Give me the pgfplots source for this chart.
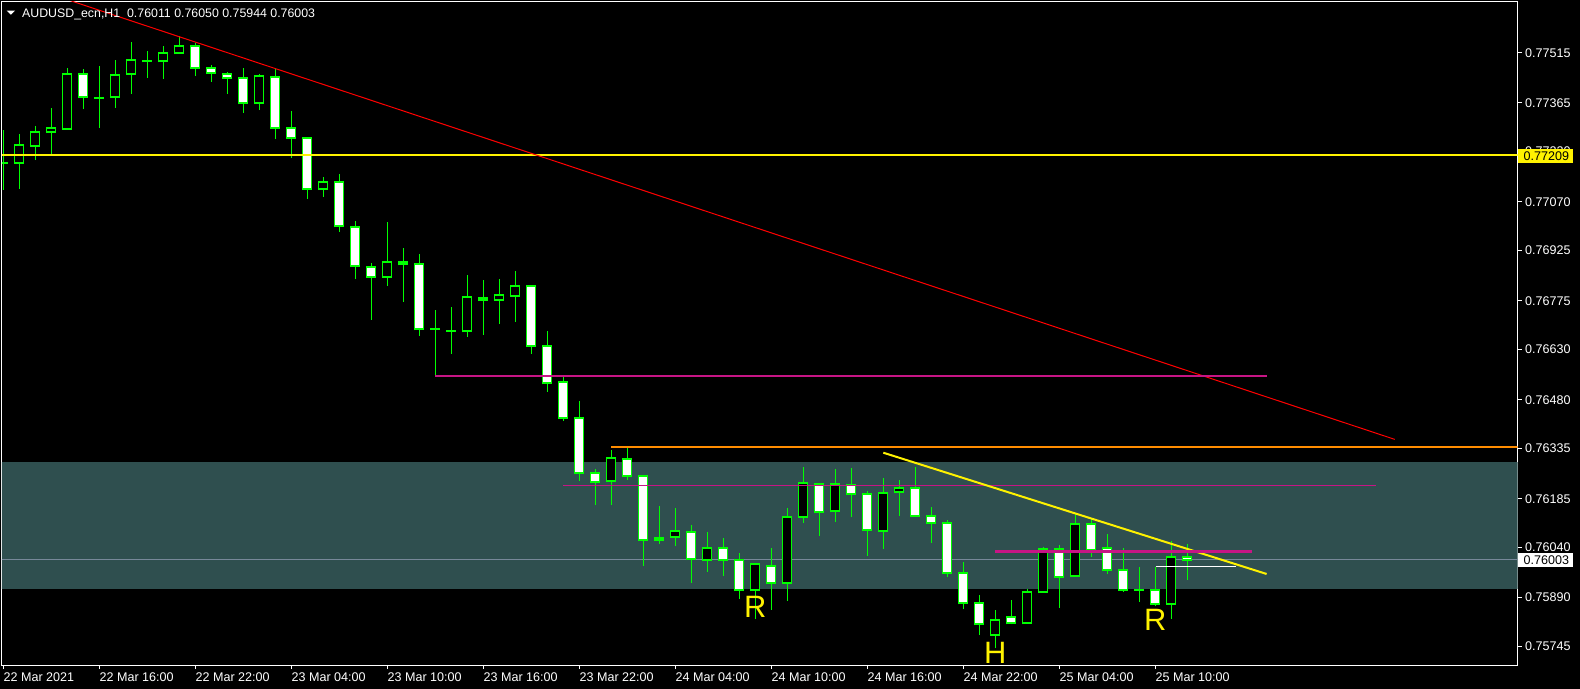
\documentclass[border=0pt]{standalone}
\usepackage{pgfplots}
\usepackage{pgfplotstable}
\pgfplotsset{compat=1.18}
\usepackage{fontspec}
\setmainfont{Liberation Sans}
\definecolor{cgreen}{RGB}{0,255,0}
\definecolor{zone}{RGB}{47,79,79}
\definecolor{mvr}{RGB}{199,21,133}
\definecolor{dorange}{RGB}{255,140,0}
\definecolor{bidgrey}{RGB}{119,136,153}
% hourly candles: index, open, high, low, close
\pgfplotstableread{
i o h l c
0 0.77187 0.77285 0.77106 0.77187
1 0.77187 0.77273 0.77109 0.77239
2 0.77238 0.77296 0.77195 0.77278
3 0.77278 0.77350 0.77212 0.77290
4 0.77288 0.77469 0.77287 0.77451
5 0.77451 0.77466 0.77347 0.77382
6 0.77381 0.77475 0.77291 0.77381
7 0.77382 0.77493 0.77351 0.77448
8 0.77451 0.77547 0.77393 0.77492
9 0.77489 0.77520 0.77440 0.77489
10 0.77489 0.77535 0.77437 0.77513
11 0.77513 0.77565 0.77513 0.77534
12 0.77534 0.77545 0.77446 0.77469
13 0.77469 0.77478 0.77429 0.77454
14 0.77451 0.77457 0.77393 0.77439
15 0.77439 0.77469 0.77336 0.77364
16 0.77364 0.77452 0.77344 0.77445
17 0.77442 0.77466 0.77259 0.77290
18 0.77290 0.77341 0.77202 0.77260
19 0.77260 0.77265 0.77079 0.77108
20 0.77108 0.77144 0.77086 0.77129
21 0.77129 0.77153 0.76981 0.76997
22 0.76994 0.77013 0.76841 0.76878
23 0.76875 0.76888 0.76719 0.76847
24 0.76847 0.77010 0.76820 0.76890
25 0.76890 0.76933 0.76773 0.76884
26 0.76884 0.76915 0.76671 0.76690
27 0.76692 0.76748 0.76551 0.76692
28 0.76686 0.76757 0.76617 0.76686
29 0.76684 0.76852 0.76668 0.76786
30 0.76783 0.76837 0.76674 0.76777
31 0.76777 0.76840 0.76707 0.76792
32 0.76790 0.76864 0.76713 0.76818
33 0.76818 0.76818 0.76617 0.76640
34 0.76640 0.76685 0.76504 0.76529
35 0.76532 0.76551 0.76418 0.76425
36 0.76425 0.76476 0.76239 0.76261
37 0.76261 0.76274 0.76166 0.76234
38 0.76237 0.76330 0.76166 0.76306
39 0.76303 0.76338 0.76242 0.76252
40 0.76252 0.76255 0.75985 0.76061
41 0.76067 0.76163 0.76051 0.76061
42 0.76070 0.76157 0.76045 0.76088
43 0.76085 0.76107 0.75935 0.76004
44 0.76001 0.76086 0.75967 0.76037
45 0.76037 0.76068 0.75955 0.76001
46 0.76001 0.76022 0.75887 0.75912
47 0.75912 0.75989 0.75826 0.75989
48 0.75983 0.76038 0.75854 0.75933
49 0.75933 0.76157 0.75881 0.76130
50 0.76130 0.76280 0.76113 0.76231
51 0.76228 0.76232 0.76075 0.76144
52 0.76147 0.76274 0.76116 0.76228
53 0.76225 0.76277 0.76131 0.76198
54 0.76198 0.76208 0.76015 0.76091
55 0.76088 0.76247 0.76036 0.76201
56 0.76204 0.76241 0.76134 0.76216
57 0.76216 0.76280 0.76130 0.76133
58 0.76133 0.76160 0.76054 0.76112
59 0.76112 0.76121 0.75951 0.75963
60 0.75963 0.75996 0.75855 0.75873
61 0.75873 0.75898 0.75778 0.75811
62 0.75778 0.75853 0.75739 0.75822
63 0.75831 0.75883 0.75810 0.75813
64 0.75813 0.75916 0.75813 0.75906
65 0.75906 0.76041 0.75906 0.76035
66 0.76035 0.76047 0.75860 0.75952
67 0.75955 0.76142 0.75952 0.76109
68 0.76109 0.76124 0.76012 0.76033
69 0.76037 0.76080 0.75961 0.75973
70 0.75972 0.76037 0.75908 0.75914
71 0.75914 0.75980 0.75878 0.75914
72 0.75912 0.75980 0.75865 0.75872
73 0.75872 0.76058 0.75827 0.76010
74 0.76011 0.76050 0.75944 0.76003
}\candles
\begin{document}
\begin{tikzpicture}
\useasboundingbox (0,0) rectangle (790bp,344.5bp);
\fill[black] (0,0) rectangle (790bp,344.5bp);
\begin{axis}[
  at={(1bp,12bp)}, anchor=south west,
  width=757.75bp, height=331.5bp, scale only axis,
  xmin=-0.081, xmax=94.64, ymin=0.756891, ymax=0.776662,
  axis background/.style={fill=black},
  axis line style={white, line width=0.5bp},
  xtick={0,6,12,18,24,30,36,42,48,54,60,66,72},
  xticklabels={22 Mar 2021,22 Mar 16:00,22 Mar 22:00,23 Mar 04:00,23 Mar 10:00,23 Mar 16:00,23 Mar 22:00,24 Mar 04:00,24 Mar 10:00,24 Mar 16:00,24 Mar 22:00,25 Mar 04:00,25 Mar 10:00},
  ytick={0.75745,0.7589,0.7604,0.76185,0.76335,0.7648,0.7663,0.76775,0.76925,0.7707,0.7722,0.77365,0.77515},
  yticklabels={0.75745,0.75890,0.76040,0.76185,0.76335,0.76480,0.76630,0.76775,0.76925,0.77070,0.77220,0.77365,0.77515},
  xtick pos=bottom, ytick pos=right, yticklabel pos=right,
  tick align=outside, major tick length=2bp,
  tick style={white, line width=0.5bp},
  ticklabel style={font=\fontsize{6.3}{7}\selectfont, text=white, inner sep=0pt},
  xticklabel style={anchor=north west, yshift=-1.6bp},
  yticklabel style={anchor=west, xshift=1.6bp},
  scaled y ticks=false,
]
% zone rectangle
\addplot[fill=zone, draw=none] coordinates {(-1,0.759158) (96,0.759158) (96,0.762945) (-1,0.762945)} -- cycle;
% bid line
\addplot[bidgrey, line width=0.5bp] coordinates {(-1,0.76003) (96,0.76003)};
% wicks
\addplot[draw=none, mark=none,
  error bars/.cd, y dir=plus, y explicit, error mark=none,
  error bar style={draw=cgreen, line width=0.5bp}]
  table[x=i, y=l, y error expr={\thisrow{h}-\thisrow{l}}] {\candles};
% body outlines
\addplot[draw=none, mark=none,
  error bars/.cd, y dir=plus, y explicit, error mark=none,
  error bar style={draw=cgreen, line width=5.1bp}]
  table[x=i, y expr={min(\thisrow{o},\thisrow{c})-0.00003}, y error expr={abs(\thisrow{o}-\thisrow{c})+0.00006}] {\candles};
% bullish bodies (black)
\addplot[draw=none, mark=none,
  restrict expr to domain={\thisrow{c}-\thisrow{o}}{0.00006:1},
  error bars/.cd, y dir=plus, y explicit, error mark=none,
  error bar style={draw=black, line width=4.0bp}]
  table[x=i, y expr={\thisrow{o}+0.00003}, y error expr={\thisrow{c}-\thisrow{o}-0.00006}] {\candles};
% bearish bodies (white)
\addplot[draw=none, mark=none,
  restrict expr to domain={\thisrow{o}-\thisrow{c}}{0.00006:1},
  error bars/.cd, y dir=plus, y explicit, error mark=none,
  error bar style={draw=white, line width=4.0bp}]
  table[x=i, y expr={\thisrow{c}+0.00003}, y error expr={\thisrow{o}-\thisrow{c}-0.00006}] {\candles};
% objects
\addplot[yellow, line width=1bp] coordinates {(-1,0.77209) (96,0.77209)};
\addplot[red, line width=0.5bp] coordinates {(0,0.777364) (86.97,0.763619)};
\addplot[mvr, line width=0.9bp] coordinates {(27,0.76551) (78.97,0.76551)};
\addplot[dorange, line width=1bp] coordinates {(38,0.76340) (96,0.76340)};
\addplot[mvr, line width=0.5bp] coordinates {(35,0.76225) (85.8,0.76225)};
\addplot[yellow, line width=1bp] coordinates {(55,0.763222) (78.96,0.759605)};
\addplot[mvr, line width=1.6bp] coordinates {(62,0.76028) (78.06,0.76028)};
\addplot[white, line width=0.7bp] coordinates {(72.04,0.75982) (77.04,0.75982)};
\node[text=yellow, font=\fontsize{15.5}{16}\selectfont, inner sep=0pt] at (axis cs:47,0.75861) {R};
\node[text=yellow, font=\fontsize{15.5}{16}\selectfont, inner sep=0pt] at (axis cs:72,0.75823) {R};
\node[text=yellow, font=\fontsize{15.5}{16}\selectfont, inner sep=0pt] at (axis cs:62,0.75726) {H};
\end{axis}
% price labels on the scale
\fill[yellow] (759.15bp,263.2bp) rectangle (786.65bp,269.8bp);
\node[anchor=west, inner sep=0pt, text=black, font=\fontsize{6.3}{7}\selectfont] at (761.65bp,266.5bp) {0.77209};
\fill[white] (759.15bp,61.1bp) rectangle (786.65bp,68.15bp);
\node[anchor=west, inner sep=0pt, text=black, font=\fontsize{6.3}{7}\selectfont] at (761.65bp,64.6bp) {0.76003};
% title
\fill[white] (3.35bp,339.15bp) -- (7.5bp,339.15bp) -- (5.43bp,337.15bp) -- cycle;
\node[anchor=base west, inner sep=0pt, text=white, font=\fontsize{6.2}{7}\selectfont] at (10.85bp,335.85bp) {AUDUSD\_ecn,H1\ \ 0.76011 0.76050 0.75944 0.76003};
\end{tikzpicture}
\end{document}
